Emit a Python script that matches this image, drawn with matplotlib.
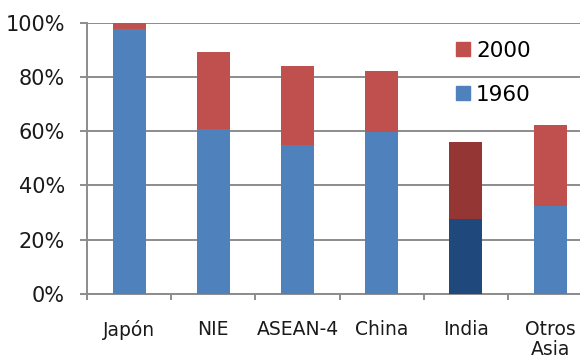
import numpy as np
import matplotlib
matplotlib.use("Agg")
import matplotlib.pyplot as plt
from matplotlib.patches import Patch

regions = ["Japón", "NIE", "ASEAN-4", "China", "India", "Otros\nAsia"]
share_1960 = [97.6, 60.7, 54.9, 59.8, 27.6, 32.4]
share_2000 = [100.0, 89.1, 84.0, 82.1, 56.0, 62.3]
y_ticks = [0, 20, 40, 60, 80, 100]

blue = ["#4F81BD"] * 6
red = ["#C0504D"] * 6
# India stands out in darker tones
blue[4] = "#1F497D"
red[4] = "#943634"

plt.rcParams["font.family"] = "DejaVu Sans"

fig = plt.figure(figsize=(5.8, 3.58), dpi=100)
ax = fig.add_axes([0.15, 0.1788, 0.871, 0.758])

x = np.arange(len(regions)) + 0.5
low = np.array(share_1960)
high = np.array(share_2000)
ax.bar(x, low, width=0.39, color=blue, zorder=3)
ax.bar(x, high - low, bottom=low, width=0.39, color=red, zorder=3)

ax.set_xlim(0, 6)
ax.set_ylim(0, 100)
ax.set_yticks(y_ticks)
ax.set_yticklabels([f"{t}%" for t in y_ticks], fontsize=15, color="#1a1a1a")
ax.yaxis.grid(True, color="#8c8c8c", linewidth=1.4, zorder=0)
ax.set_axisbelow(True)

# category boundaries carry the ticks, names sit in between
ax.set_xticks(np.arange(0, 7))
ax.set_xticklabels([])
ax.set_xticks(x, minor=True)
ax.set_xticklabels(regions, minor=True, fontsize=13.5, color="#1a1a1a",
                   linespacing=1.05, va="top")
ax.tick_params(axis="x", which="minor", length=0, pad=19)
ax.tick_params(axis="x", which="major", length=4, width=1.4, color="#8c8c8c")
ax.tick_params(axis="y", length=5, width=1.4, color="#8c8c8c", pad=11)

for side in ["top", "right"]:
    ax.spines[side].set_visible(False)
for side in ["left", "bottom"]:
    ax.spines[side].set_color("#8c8c8c")
    ax.spines[side].set_linewidth(1.4)

handles = [Patch(color="#C0504D", label="2000"), Patch(color="#4F81BD", label="1960")]
fig.legend(handles=handles, loc="upper left", bbox_to_anchor=(0.752, 0.94),
           frameon=False, fontsize=15.5, handlelength=0.65, handleheight=0.65,
           handletextpad=0.3, labelspacing=1.1)

fig.savefig("out.png", dpi=100)
